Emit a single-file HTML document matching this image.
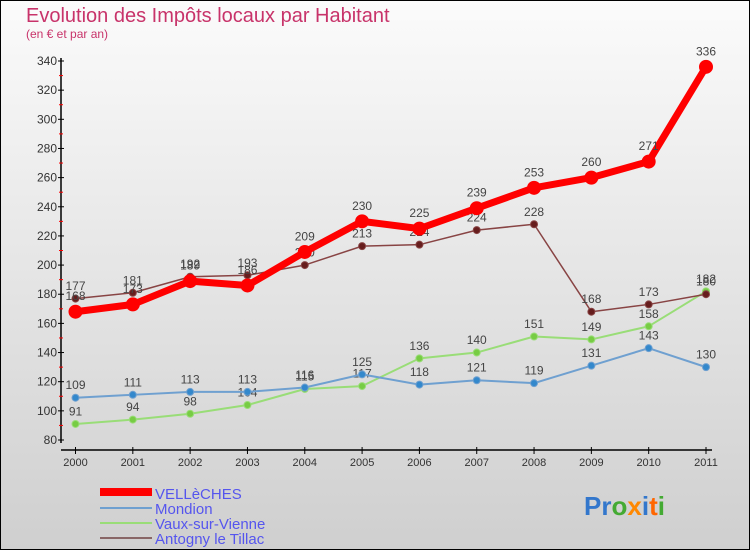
<!DOCTYPE html>
<html><head><meta charset="utf-8"><style>
body{margin:0}
#c{width:750px;height:550px;position:relative;overflow:hidden}
text{font-family:"Liberation Sans",sans-serif}
</style></head><body>
<div id="c">
<svg width="750" height="550" id="svg">
<defs><linearGradient id="bg" x1="0" y1="0" x2="0" y2="1"><stop offset="0" stop-color="#fbfbfb"/><stop offset="1" stop-color="#cfcfcf"/></linearGradient></defs>
<rect x="0.5" y="0.5" width="749" height="549" fill="url(#bg)" stroke="#000" stroke-width="1"/>
<text x="26" y="22" font-size="20" fill="#c8336a">Evolution des Impôts locaux par Habitant</text>
<text x="26" y="38" font-size="12" fill="#c8336a">(en € et par an)</text>
<g id="axes"></g><g id="series"></g>
<g>
<line x1="100" y1="492" x2="152" y2="492" stroke="#f00" stroke-width="8"/>
<text x="155" y="499" font-size="15" fill="#5555ee">VELLèCHES</text>
<line x1="100" y1="508" x2="152" y2="508" stroke="#6fa0d0" stroke-width="2"/>
<text x="155" y="514" font-size="15" fill="#5555ee">Mondion</text>
<line x1="100" y1="523" x2="152" y2="523" stroke="#99dd77" stroke-width="2"/>
<text x="155" y="529" font-size="15" fill="#5555ee">Vaux-sur-Vienne</text>
<line x1="100" y1="538" x2="152" y2="538" stroke="#886666" stroke-width="2"/>
<text x="155" y="544" font-size="15" fill="#5555ee">Antogny le Tillac</text>
</g>
<text x="584" y="515" font-size="26" font-weight="bold"><tspan fill="#3377cc">P</tspan><tspan fill="#3377cc">r</tspan><tspan fill="#44aa33">o</tspan><tspan fill="#ff8800">x</tspan><tspan fill="#3377cc">i</tspan><tspan fill="#ff6600">t</tspan><tspan fill="#44aa33">i</tspan></text>
</svg></div>
<script>
const years=[2000,2001,2002,2003,2004,2005,2006,2007,2008,2009,2010,2011];
const yTicks=[80,100,120,140,160,180,200,220,240,260,280,300,320,340];
const velleches=[168,173,189,186,209,230,225,239,253,260,271,336];
const mondion=[109,111,113,113,116,125,118,121,119,131,143,130];
const vaux=[91,94,98,104,115,117,136,140,151,149,158,182];
const antogny=[177,181,192,193,200,213,214,224,228,168,173,180];
const NS="http://www.w3.org/2000/svg";
function X(i){return 75.5+i*(706-75.5)/11;}
function Y(v){return 440-(v-80)*(440-61)/260;}
function mk(t,a,p){const e=document.createElementNS(NS,t);for(const k in a)e.setAttribute(k,a[k]);p.appendChild(e);return e;}
const ax=document.getElementById('axes');
const yl=mk('line',{x1:61,y1:58,x2:61,y2:443,stroke:'#000','stroke-width':1.5},ax);


const xl=mk('line',{x1:61,y1:450,x2:712,y2:450,stroke:'#000','stroke-width':1.5},ax);


yTicks.forEach(v=>{
 mk('line',{x1:58,y1:Y(v),x2:64,y2:Y(v),stroke:'#000'},ax);
 if(v<340)mk('line',{x1:59,y1:Y(v+10),x2:63,y2:Y(v+10),stroke:'#f00'},ax);
 const t=mk('text',{x:57,y:Y(v)+4,'text-anchor':'end','font-size':12,fill:'#333'},ax);t.textContent=v;
 
 
});
years.forEach((y,i)=>{
 mk('line',{x1:X(i),y1:447,x2:X(i),y2:454,stroke:'#000'},ax);
 const t=mk('text',{x:X(i),y:466,'text-anchor':'middle','font-size':11,fill:'#333'},ax);t.textContent=y;
 
 
});
const sg=document.getElementById('series');
function series(data,name,color,w,r,fill,fs){
 const g=mk('g',{},sg);
 
 
 const l=mk('polyline',{points:data.map((v,i)=>X(i)+','+Y(v)).join(' '),fill:'none',stroke:color,'stroke-width':w,'stroke-linejoin':'round'},g);
 
 
 data.forEach((v,i)=>{
  const c=mk('circle',{cx:X(i),cy:Y(v),r:r,fill:fill,stroke:color,'stroke-width':1},g);
  
  
  const t=mk('text',{x:X(i),y:Y(v)-r-5,'text-anchor':'middle','font-size':fs,fill:'#444'},g);t.textContent=v;
  
  
 });
}
series(vaux,'vaux','#99dd77',2,3.5,'#77cc44',12);
series(mondion,'mondion','#6fa0d0',2,3.5,'#3388cc',12);
series(antogny,'antogny','#884444',1.5,3.5,'#661d1d',12);
series(velleches,'velleches','#ff0000',7,6.5,'#ff0000',12);
</script>
</body></html>
